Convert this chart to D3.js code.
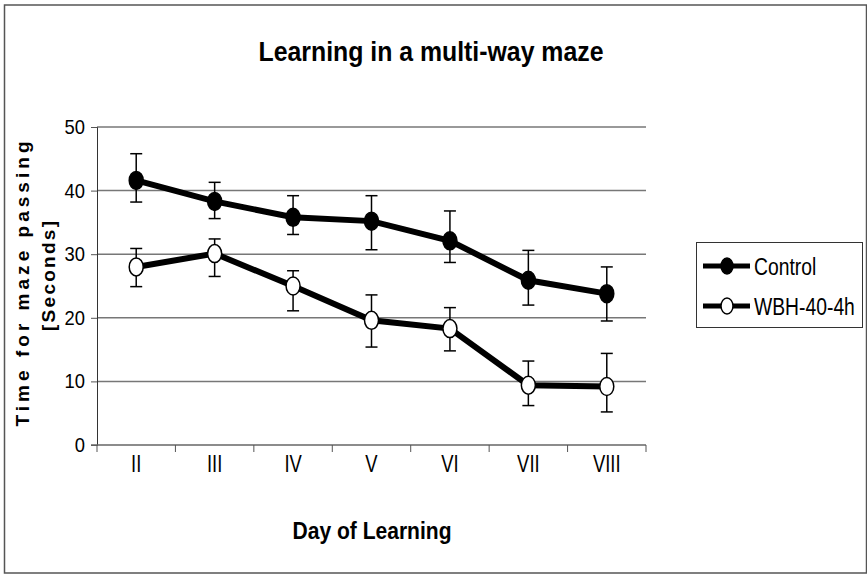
<!DOCTYPE html>
<html>
<head>
<meta charset="utf-8">
<script src="https://cdn.jsdelivr.net/npm/d3@7"></script>
<style>
  body { margin: 0; background: #fff; }
  text { font-family: "Liberation Sans", Arial, sans-serif; fill: #000; }
</style>
</head>
<body>
<div id="chart"></div>
<script>
// Values
var days = ["II", "III", "IV", "V", "VI", "VII", "VIII"];
var control   = [41.6, 38.3, 35.8, 35.2, 32.1, 25.9, 23.8];
var controlHi = [45.8, 41.3, 39.2, 39.2, 36.8, 30.6, 28.0];
var controlLo = [38.2, 35.6, 33.1, 30.7, 28.7, 22.0, 19.5];
var wbh   = [28.0, 30.1, 25.0, 19.6, 18.3, 9.4, 9.2];
var wbhHi = [30.9, 32.4, 27.4, 23.6, 21.6, 13.2, 14.4];
var wbhLo = [24.9, 26.5, 21.1, 15.4, 14.8, 6.2, 5.2];
var yTicks = [0, 10, 20, 30, 40, 50];

var width = 867, height = 575;
var margin = {top: 127, right: 221, bottom: 130, left: 97};

var svg = d3.select("#chart").append("svg")
  .attr("width", width)
  .attr("height", height);

// outer frame
svg.append("rect")
  .attr("x", 4.5).attr("y", 5)
  .attr("width", 862).attr("height", 568)
  .attr("fill", "none")
  .attr("stroke", "#555")
  .attr("stroke-width", 1.5);

var x = d3.scaleBand().domain(days).range([margin.left, width - margin.right]);
var y = d3.scaleLinear().domain([0, 50]).range([height - margin.bottom, margin.top]);

// gridlines
svg.append("g")
  .selectAll("line")
  .data(yTicks.slice(1))
  .join("line")
  .attr("x1", x.range()[0]).attr("x2", x.range()[1])
  .attr("y1", function(d) { return y(d); })
  .attr("y2", function(d) { return y(d); })
  .attr("stroke", "#777")
  .attr("stroke-width", 1.5);

// y axis
var yAxis = svg.append("g")
  .attr("transform", "translate(" + margin.left + ",0)")
  .call(d3.axisLeft(y).tickValues(yTicks).tickSize(6).tickPadding(7));
yAxis.selectAll("text")
  .style("font-size", "20px")
  .style("font-family", "Liberation Sans, Arial, sans-serif")
  .attr("transform", "scale(0.92,1)");
yAxis.selectAll("line").attr("stroke", "#555");
yAxis.select(".domain").attr("stroke", "#333");

// x axis: ticks at category boundaries
var xAxis = svg.append("g")
  .attr("transform", "translate(0," + y(0) + ")");
xAxis.append("line")
  .attr("x1", x.range()[0] - 6).attr("x2", x.range()[1])
  .attr("stroke", "#666").attr("stroke-width", 1.5);
xAxis.selectAll(".bt")
  .data(days.concat(["end"]))
  .join("line")
  .attr("class", "bt")
  .attr("x1", function(d, i) { return x.range()[0] + i * x.bandwidth(); })
  .attr("x2", function(d, i) { return x.range()[0] + i * x.bandwidth(); })
  .attr("y1", 0).attr("y2", 7)
  .attr("stroke", "#555");
xAxis.selectAll("text")
  .data(days)
  .join("text")
  .attr("transform", function(d) {
    return "translate(" + (x(d) + x.bandwidth() / 2) + ",27) scale(0.8,1)";
  })
  .attr("text-anchor", "middle")
  .style("font-size", "23px")
  .text(function(d) { return d; });

// title and axis titles
svg.append("text")
  .attr("x", 431).attr("y", 61)
  .attr("text-anchor", "middle")
  .attr("textLength", 345).attr("lengthAdjust", "spacingAndGlyphs")
  .style("font-size", "28px").style("font-weight", "bold")
  .text("Learning in a multi-way maze");

svg.append("text")
  .attr("x", 372).attr("y", 539)
  .attr("text-anchor", "middle")
  .attr("textLength", 159).attr("lengthAdjust", "spacingAndGlyphs")
  .style("font-size", "23px").style("font-weight", "bold")
  .text("Day of Learning");

svg.append("text")
  .attr("transform", "translate(29,284) rotate(-90)")
  .attr("text-anchor", "middle")
  .attr("textLength", 285).attr("lengthAdjust", "spacing")
  .style("font-size", "19px").style("font-weight", "bold")
  .text("Time for maze passing");

svg.append("text")
  .attr("transform", "translate(55,276) rotate(-90)")
  .attr("text-anchor", "middle")
  .attr("textLength", 110).attr("lengthAdjust", "spacing")
  .style("font-size", "19px").style("font-weight", "bold")
  .text("[Seconds]");

// series
var series = [
  {name: "Control", mean: control, hi: controlHi, lo: controlLo, fill: "#000"},
  {name: "WBH-40-4h", mean: wbh, hi: wbhHi, lo: wbhLo, fill: "#fff"}
];

var cx = function(i) { return x(days[i]) + x.bandwidth() / 2; };
var line = d3.line()
  .x(function(d, i) { return cx(i); })
  .y(function(d) { return y(d); });

series.forEach(function(s) {
  var g = svg.append("g");

  // error bars
  s.mean.forEach(function(m, i) {
    g.append("line")
      .attr("x1", cx(i)).attr("x2", cx(i))
      .attr("y1", y(s.hi[i])).attr("y2", y(s.lo[i]))
      .attr("stroke", "#000").attr("stroke-width", 1.5);
    [s.hi[i], s.lo[i]].forEach(function(v) {
      g.append("line")
        .attr("x1", cx(i) - 6).attr("x2", cx(i) + 6)
        .attr("y1", y(v)).attr("y2", y(v))
        .attr("stroke", "#000").attr("stroke-width", 1.5);
    });
  });

  g.append("path")
    .datum(s.mean)
    .attr("d", line)
    .attr("fill", "none")
    .attr("stroke", "#000")
    .attr("stroke-width", 6);

  g.selectAll("ellipse")
    .data(s.mean)
    .join("ellipse")
    .attr("cx", function(d, i) { return cx(i); })
    .attr("cy", function(d) { return y(d); })
    .attr("rx", 7).attr("ry", 9)
    .attr("fill", s.fill)
    .attr("stroke", "#000")
    .attr("stroke-width", 1.5);
});

// legend
var legend = svg.append("g");
legend.append("rect")
  .attr("x", 696.5).attr("y", 242.5)
  .attr("width", 166).attr("height", 85)
  .attr("fill", "#fff").attr("stroke", "#333").attr("stroke-width", 1);

series.forEach(function(s, i) {
  var ly = 266 + i * 40;
  legend.append("line")
    .attr("x1", 703).attr("x2", 750)
    .attr("y1", ly).attr("y2", ly)
    .attr("stroke", "#000").attr("stroke-width", 5);
  legend.append("ellipse")
    .attr("cx", 727).attr("cy", ly)
    .attr("rx", 6).attr("ry", 8)
    .attr("fill", s.fill).attr("stroke", "#000").attr("stroke-width", 1.5);
  // condensed text: squeeze horizontally, then stretch letter spacing to the reference width
  legend.append("text")
    .attr("transform", "translate(754," + (ly + 9) + ") scale(0.82,1)")
    .attr("textLength", i === 0 ? 76 : 123).attr("lengthAdjust", "spacingAndGlyphs")
    .style("font-size", "24px")
    .text(s.name);
});
</script>
</body>
</html>
